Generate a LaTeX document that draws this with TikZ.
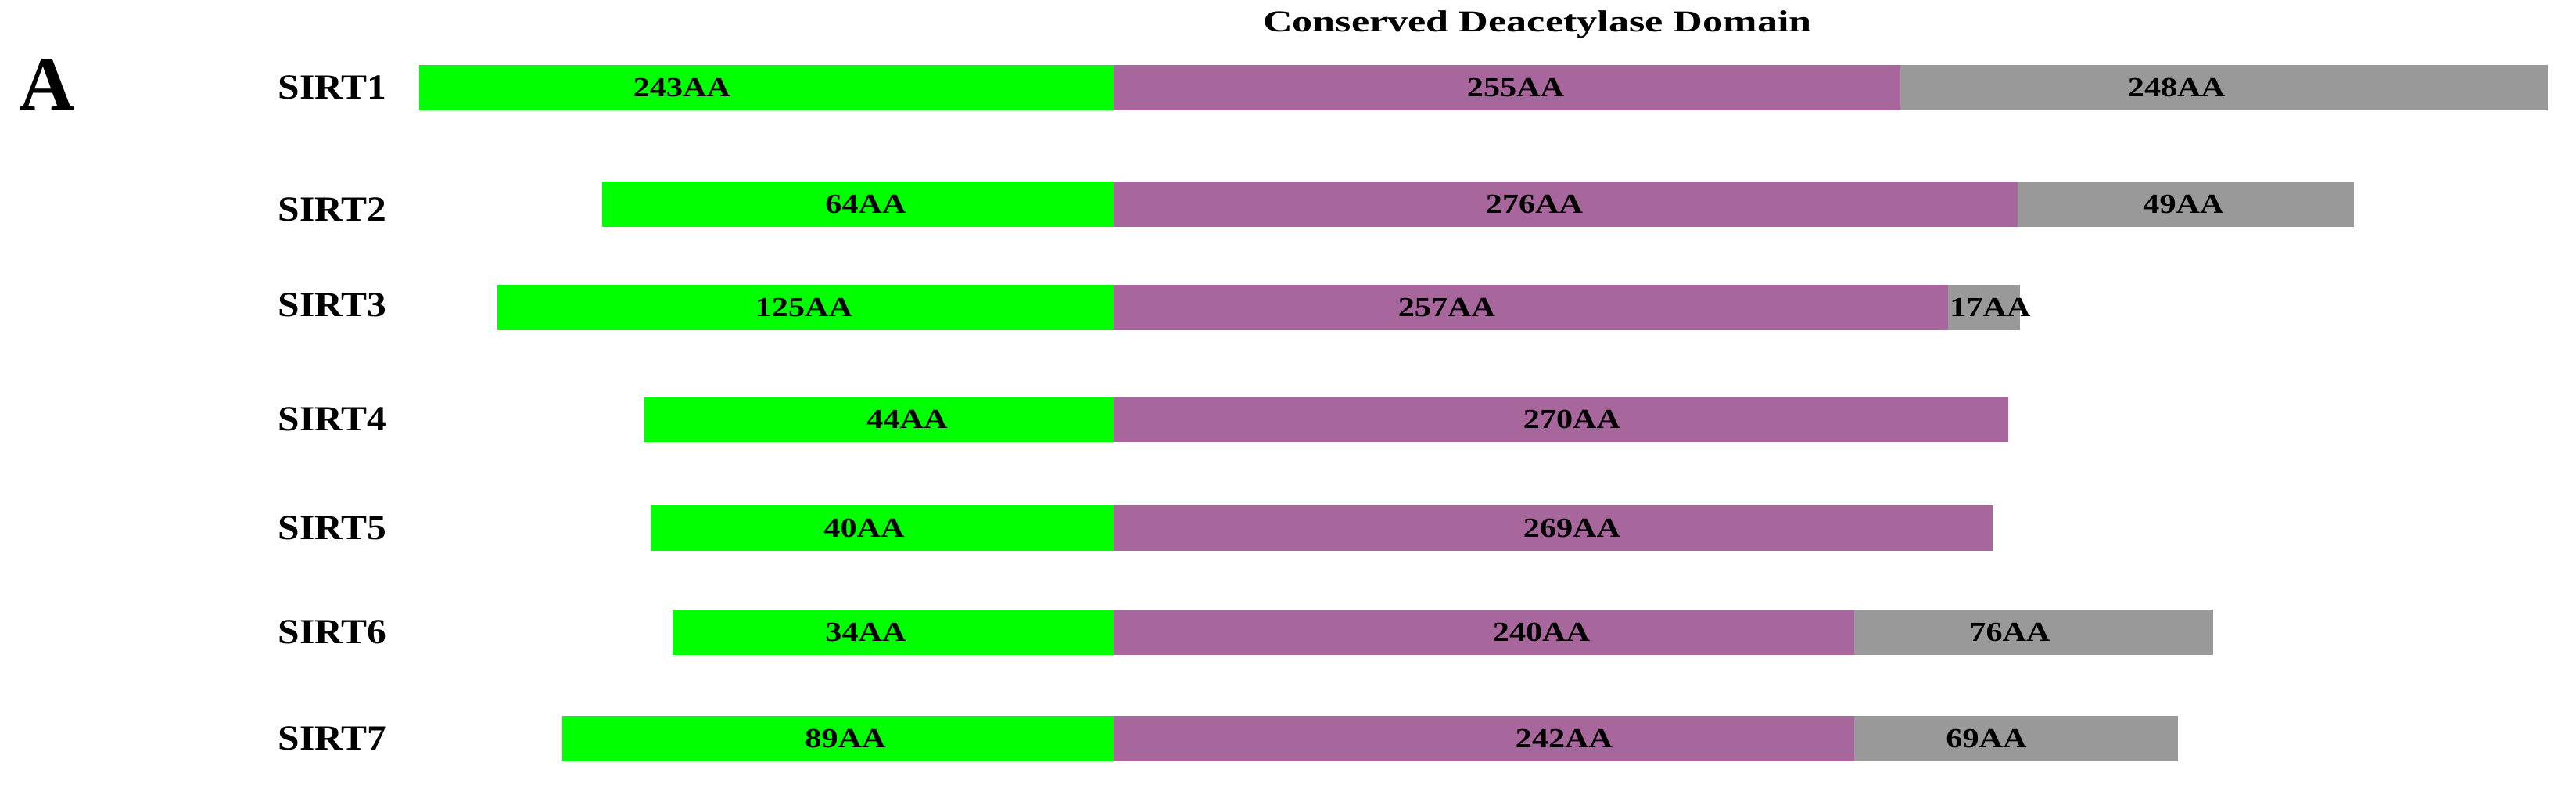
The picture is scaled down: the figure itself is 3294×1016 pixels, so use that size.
\documentclass[tikz,border=0pt]{standalone}
\usepackage{fontspec}
\setmainfont{Liberation Serif}
\newfontfamily\seglabelfont{Liberation Serif}[FakeStretch=1.2]
\newfontfamily\namefont{Liberation Serif}[FakeStretch=1.1]
\newfontfamily\titlefont{Liberation Serif}[FakeStretch=1.35]
\definecolor{nterm}{RGB}{0,255,0}
\definecolor{core}{RGB}{167,102,156}
\definecolor{cterm}{RGB}{153,153,153}
\begin{document}
\begin{tikzpicture}
[x=0.01cm,y=-0.01cm,
  ntermdecorate/.style={fill=nterm},%
  coredecorate/.style={fill=core},%
  ctermdecorate/.style={fill=cterm},%
  seglabel/.style={inner sep=0pt,font=\seglabelfont\bfseries\fontsize{10}{10}\selectfont},%
  namelabel/.style={inner sep=0pt,anchor=west,font=\namefont\bfseries\fontsize{12.8}{12.8}\selectfont}]
\useasboundingbox (0,0) rectangle (3294,1016);
%% panel letter and title
\node (panel) at (60,108) [inner sep=0pt,font=\bfseries\fontsize{28}{28}\selectfont] {A};
\node (title) at (1966,31) [inner sep=0pt,font=\titlefont\bfseries\fontsize{11}{11}\selectfont] {Conserved Deacetylase Domain};
%% protein names
\foreach \name/\y in {SIRT1/112, SIRT2/268, SIRT3/390, SIRT4/536, SIRT5/675, SIRT6/808, SIRT7/944} {
  \node (\name) at (355,\y) [namelabel] {\name};
}
%% domains: start / end of N-term / end of core / end of C-term
\foreach \y/\a/\b/\c in {112/536/2430/3258, 261/770/2580/3010, 393/636/2491/2583,
  536/824/2568/2568, 675/832/2548/2548, 808/860/2371/2830, 944/719/2371/2785} {
  \path[ntermdecorate] (\a,\y-29) rectangle (1424,\y+29);
  \path[coredecorate] (1424,\y-29) rectangle (\b,\y+29);
  \path[ctermdecorate] (\b,\y-29) rectangle (\c,\y+29);
}
%% lengths
\foreach \nodename/\x/\y/\len in {s1n/872/112/243, s1c/1938/112/255, s1t/2783/112/248,
  s2n/1107/261/64, s2c/1962/261/276, s2t/2792/261/49,
  s3n/1028/393/125, s3c/1850/393/257, s3t/2545/393/17,
  s4n/1160/536/44, s4c/2010/536/270,
  s5n/1105/675/40, s5c/2010/675/269,
  s6n/1107/808/34, s6c/1971/808/240, s6t/2570/808/76,
  s7n/1081/944/89, s7c/2000/944/242, s7t/2540/944/69} {
  \node (\nodename) at (\x,\y) [seglabel] {\len AA};
}
\end{tikzpicture}
\end{document}
